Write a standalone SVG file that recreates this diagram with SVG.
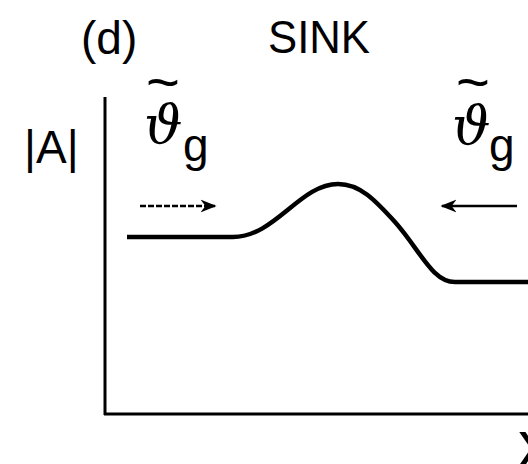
<svg xmlns="http://www.w3.org/2000/svg" width="528" height="464" viewBox="0 0 528 464">
<defs>
<style>
.t{font-family:"Liberation Sans",Arial,Helvetica,sans-serif;fill:#000}
.th{font-family:"DejaVu Serif","DejaVu Sans",serif;font-style:italic}
.ax{stroke:#000;stroke-width:3;fill:none}
.cv{stroke:#000;stroke-width:4.5;fill:none;stroke-linecap:butt;stroke-linejoin:round}
.sh{stroke:#000;stroke-width:2.5;fill:none}
</style>
<marker id="ah" viewBox="0 0 10 10" refX="9" refY="5" markerWidth="16" markerHeight="16" markerUnits="userSpaceOnUse" orient="auto">
<path d="M0,1 L10,5 L0,9 L3,5 Z" fill="#000"/>
</marker>
</defs>
<rect width="528" height="464" fill="#fff"/>
<g id="title">
<text class="t" x="81" y="54" font-size="46">(d)</text>
<text class="t" x="268" y="53" font-size="46" textLength="102" lengthAdjust="spacingAndGlyphs">SINK</text>
</g>
<g id="axes">
<line class="ax" x1="105" y1="97" x2="105" y2="415"/>
<line class="ax" x1="104" y1="414" x2="528" y2="414"/>
<text class="t" x="24" y="163" font-size="46">|A|</text>
<text class="t" x="518" y="466" font-size="64">x</text>
</g>
<g id="label-left">
<text class="t"><tspan x="146" y="102" font-size="58">~</tspan><tspan class="th" x="144" y="143" font-size="54">ϑ</tspan><tspan x="183" y="161" font-size="46">g</tspan></text>
</g>
<g id="label-right">
<text class="t"><tspan x="456" y="102" font-size="58">~</tspan><tspan class="th" x="452" y="144" font-size="54">ϑ</tspan><tspan x="489" y="161" font-size="46">g</tspan></text>
</g>
<g id="connectors">
<line class="sh" x1="140" y1="206" x2="215" y2="206" stroke-dasharray="6,2" marker-end="url(#ah)"/>
<line class="sh" x1="517" y1="206" x2="442" y2="206" marker-end="url(#ah)"/>
</g>
<g id="curve">
<path class="cv" d="M127,237 L233,237 C275,237 300,184 338,184 C360,184 375,200 395,222 C420,250 432,282 455,282 L528,282"/>
</g>
</svg>
